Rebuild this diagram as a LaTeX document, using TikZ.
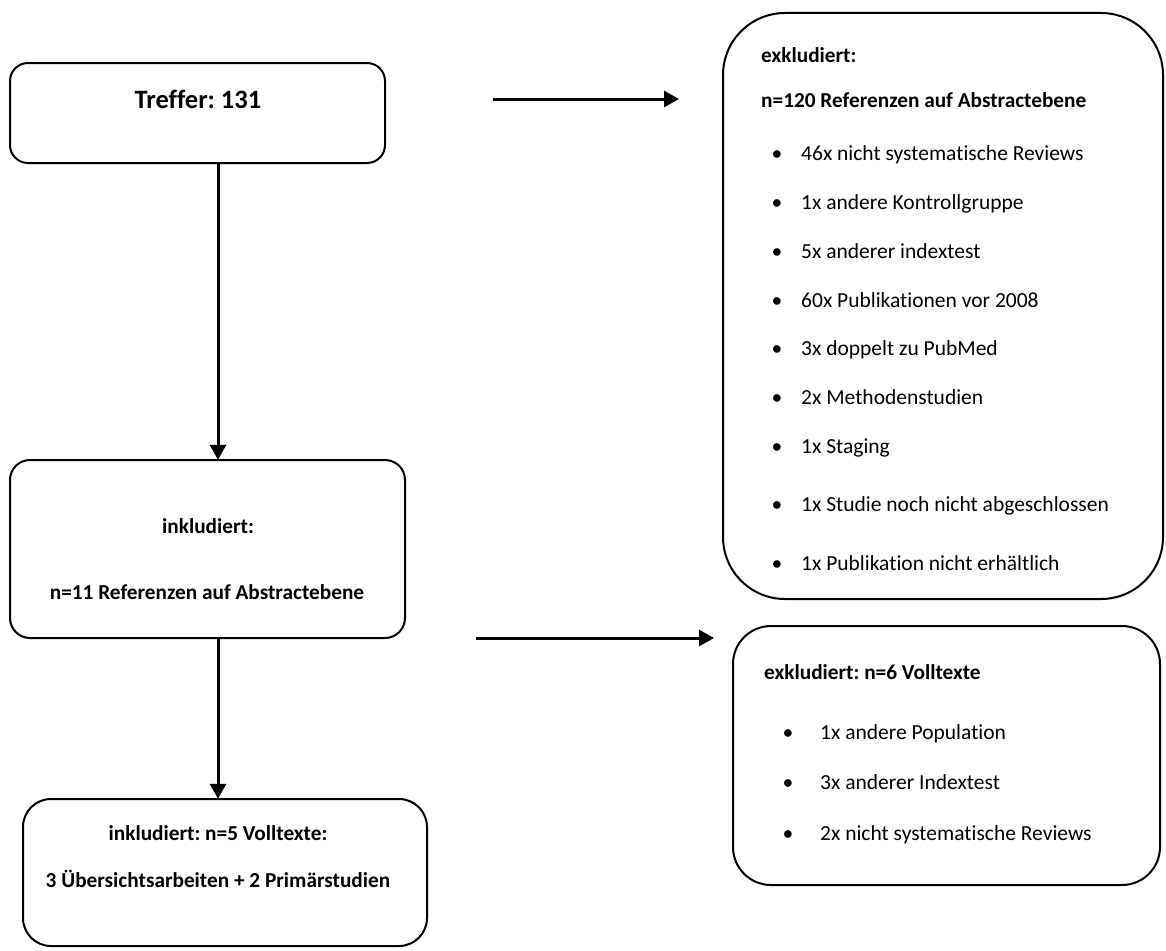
\documentclass[tikz,border=0pt]{standalone}
\usepackage{fontspec}
\setmainfont{Carlito}[Ligatures=NoCommon]
\usetikzlibrary{arrows.meta}
\frenchspacing
\begin{document}
\begin{tikzpicture}[x=1pt,y=-1pt,
  box/.style={draw, line width=2pt, inner sep=0pt},
  arr/.style={line width=3pt, -{Triangle[length=15pt,width=16pt]}},
  bt/.style={font=\fontsize{21.3}{24}\selectfont\bfseries, inner sep=0pt, anchor=base},
  bl/.style={font=\fontsize{21.3}{24}\selectfont\bfseries, inner sep=0pt, anchor=base west},
  it/.style={font=\fontsize{21.5}{24}\selectfont, inner sep=0pt, anchor=base west},
  bul/.style={font=\fontsize{21.5}{24}\selectfont, inner sep=0pt, anchor=base}]
\useasboundingbox (0,0) rectangle (1166,950);
% boxes
\draw[box, rounded corners=18pt] (10,63) rectangle (385,163);
\node[inner sep=0pt, minimum width=375pt, minimum height=100pt] (b1) at (197.5,113) {};
\draw[box, rounded corners=20pt] (10,460) rectangle (405,638);
\node[inner sep=0pt, minimum width=395pt, minimum height=178pt] (b2) at (207.5,549) {};
\draw[box, rounded corners=28pt] (23,799) rectangle (427,946);
\node[inner sep=0pt, minimum width=404pt, minimum height=147pt] (b3) at (225,872.5) {};
\draw[box, rounded corners=62pt] (723,13) rectangle (1163,599);
\node[inner sep=0pt, minimum width=440pt, minimum height=586pt] (b4) at (943,306) {};
\draw[box, rounded corners=38pt] (733,626) rectangle (1160,885);
\node[inner sep=0pt, minimum width=427pt, minimum height=259pt] (b5) at (946.5,755.5) {};
% texts
\node[inner sep=0pt, anchor=base, font=\fontsize{26.5}{30}\selectfont\bfseries] (t1) at (198,108) {Treffer: 131};
\node[bt] (t2a) at (208,533) {inkludiert:};
\node[bt] (t2b) at (207,599) {n=11 Referenzen auf Abstractebene};
\node[bt] (t3a) at (218,840) {inkludiert: n=5 Volltexte:};
\node[bt] (t3b) at (218,887) {3 Übersichtsarbeiten + 2 Primärstudien};
\node[bl] (t4a) at (761,63) {exkludiert:};
\node[bl] (t4b) at (761,107) {n=120 Referenzen auf Abstractebene};
\foreach \yy/\txt [count=\i] in {160/46x nicht systematische Reviews, 209/1x andere Kontrollgruppe, 258/5x anderer indextest, 307/60x Publikationen vor 2008, 355/3x doppelt zu PubMed, 404/2x Methodenstudien, 453/1x Staging, 511/1x Studie noch nicht abgeschlossen, 570/1x Publikation nicht erhältlich}{
  \node[bul] (d4\i) at (777,\yy) {•};
  \node[it] (i4\i) at (801,\yy) {\txt};
}
\node[bl] (t5a) at (764,679) {exkludiert: n=6 Volltexte};
\foreach \yy/\txt [count=\i] in {739/1x andere Population, 789/3x anderer Indextest, 840/2x nicht systematische Reviews}{
  \node[bul] (d5\i) at (788,\yy) {•};
  \node[it] (i5\i) at (820,\yy) {\txt};
}
% arrows
\coordinate (ax) at (218,0);
\draw[arr] (b1.south -| ax) -- (b2.north -| ax);
\draw[arr] (b2.south -| ax) -- (b3.north -| ax);
\coordinate (h1s) at (493,99);
\coordinate (h1e) at (679,99);
\coordinate (h2s) at (476,638);
\coordinate (h2e) at (714,638);
\draw[arr] (h1s) -- (h1e);
\draw[arr] (h2s) -- (h2e);
\end{tikzpicture}
\end{document}
